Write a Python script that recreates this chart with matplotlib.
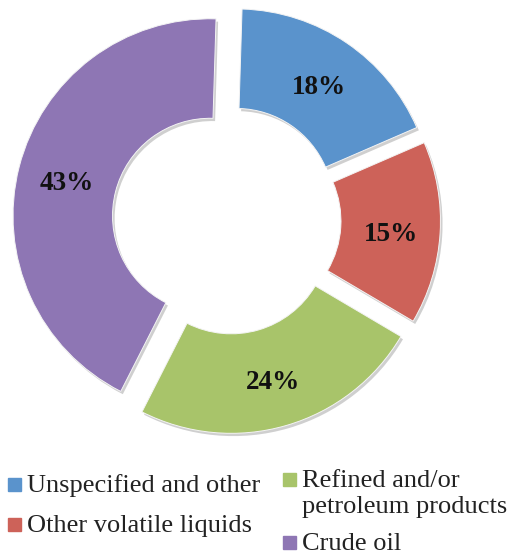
import matplotlib
matplotlib.use("Agg")
import matplotlib.pyplot as plt
import matplotlib.patheffects as pe
from matplotlib.patches import Rectangle

# data
labels = ["Unspecified and other", "Other volatile liquids",
          "Refined and/or\npetroleum products", "Crude oil"]
shares = [18, 15, 24, 43]
colors = ["#5A93CC", "#CD6259", "#A8C46A", "#8E76B4"]

plt.rcParams["font.family"] = ["Liberation Serif", "DejaVu Serif"]

W, H = 514, 559
fig = plt.figure(figsize=(W / 100, H / 100), dpi=100)
ax = fig.add_axes([0, 0, 1, 1])

# pie drawn in pixel-like data units (y up)
R, ring, gap = 197, 99.5, 17
wedges, texts, pcts = ax.pie(
    shares,
    colors=colors,
    startangle=88.25,
    counterclock=False,
    center=(226.5, H - 220),
    radius=R,
    explode=[gap] * len(shares),
    autopct="%.0f%%",
    pctdistance=0.75,
    wedgeprops=dict(width=ring, edgecolor="#f4f4f4", linewidth=0.7),
    textprops=dict(fontsize=19.5, fontweight="bold", color="#111111"),
)
for w in wedges:
    w.set_path_effects([
        pe.SimplePatchShadow(offset=(1.5, -2), shadow_rgbFace="#777777", alpha=0.35),
        pe.Normal(),
    ])
# center the digits themselves rather than the text box
for t in pcts:
    x, y = t.get_position()
    t.set_position((x, y - 4))

ax.set_xlim(0, W)
ax.set_ylim(0, H)
ax.set_aspect("equal")
ax.axis("off")

# legend, laid out by hand (two columns, markers on first text line)
legend_pos = [(8, 27, 492), (8, 27, 532), (283, 302, 487), (283, 302, 550)]
for (mx, tx, base), lab, col in zip(legend_pos, labels, colors):
    ax.add_patch(Rectangle((mx, H - base + 1), 13, 13, color=col, clip_on=False))
    for k, line in enumerate(lab.split("\n")):
        ax.text(tx, H - base - 26 * k, line, fontsize=19, color="#222222",
                ha="left", va="baseline")

fig.savefig("out.png", dpi=100)
